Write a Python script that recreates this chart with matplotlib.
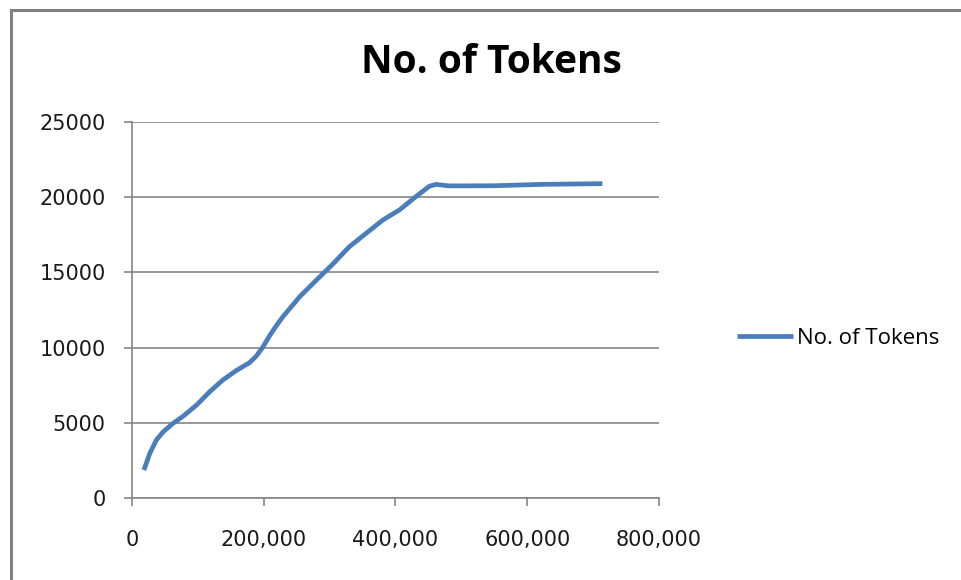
import matplotlib
matplotlib.use("Agg")
import matplotlib.pyplot as plt
from matplotlib.lines import Line2D
import matplotlib.ticker as mticker

# words read (x) vs. distinct tokens (y)
words = [18000, 27000, 37000, 47500, 62500, 78000, 98000, 118000, 138000,
         158500, 178500, 189000, 199000, 209000, 219000, 229000, 254500,
         280000, 305000, 330000, 355500, 381000, 406000, 431000, 451500,
         461500, 481500, 550000, 620000, 714000]
tokens = [1860, 2970, 3860, 4410, 4970, 5450, 6180, 7070, 7850,
          8480, 9000, 9450, 10060, 10800, 11450, 12050, 13380,
          14490, 15560, 16710, 17600, 18490, 19150, 20040, 20730,
          20850, 20750, 20760, 20850, 20900]

x_ticks = [0, 200000, 400000, 600000, 800000]
y_ticks = [0, 5000, 10000, 15000, 20000, 25000]

SERIES = "No. of Tokens"
TITLE = "No. of Tokens"
GREY = "#868686"


def main():
    fig = plt.figure(figsize=(9.61, 5.8), dpi=100)
    ax = fig.add_axes([0.1374, 0.1414, 0.5483, 0.6483])

    ax.plot(words, tokens, color="#4a7ebb", linewidth=3.4, label=SERIES,
            solid_capstyle="butt", solid_joinstyle="round")

    ## axes
    ax.set_xlim(0, 800000)
    ax.set_ylim(0, 25000)
    ax.set_xticks(x_ticks)
    ax.set_yticks(y_ticks)
    ax.xaxis.set_major_formatter(
        mticker.FuncFormatter(lambda x, p: "0" if x == 0 else format(int(x), ","))
    )
    ax.yaxis.set_major_formatter(mticker.FuncFormatter(lambda y, p: str(int(y))))
    ax.yaxis.grid(True, color=GREY, linewidth=1.2)
    ax.set_axisbelow(True)
    for side in ("top", "right"):
        ax.spines[side].set_visible(False)
    for side in ("left", "bottom"):
        ax.spines[side].set_color(GREY)
        ax.spines[side].set_linewidth(1.2)
    ax.tick_params(axis="both", color=GREY, width=1.2, length=6,
                   labelsize=15, labelcolor="#1a1a1a")
    ax.tick_params(axis="x", pad=17)
    ax.tick_params(axis="y", pad=13)

    ## title
    fig.text(0.511, 0.893, TITLE, ha="center", va="center", fontsize=28,
             weight="bold", family="Open Sans")

    ## legend
    fig.legend(loc="center left", bbox_to_anchor=(0.767, 0.417), frameon=False,
               borderpad=0, borderaxespad=0, handlelength=2.5,
               handletextpad=0.2, prop={"family": "Open Sans", "size": 16})

    ## outer border, only left and top edges are visible
    fig.add_artist(Line2D([0.0111, 0.0111], [0.0, 0.9833],
                          transform=fig.transFigure, color="#808080", linewidth=2.2))
    fig.add_artist(Line2D([0.0111, 1.0], [0.9833, 0.9833],
                          transform=fig.transFigure, color="#808080", linewidth=2.2))

    fig.savefig("out.png", dpi=100)
    return 0


if __name__ == "__main__":
    main()
